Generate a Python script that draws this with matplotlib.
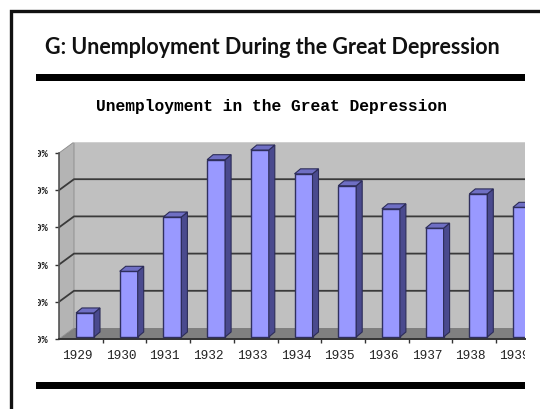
import numpy as np
import matplotlib
matplotlib.use("Agg")
import matplotlib.pyplot as plt
from matplotlib.patches import Polygon, Rectangle
from matplotlib.transforms import Bbox

W, H = 540, 409

years = ["1929", "1930", "1931", "1932", "1933", "1934", "1935", "1936", "1937", "1938", "1939"]
unemployment = [3.5, 9.1, 16.4, 24.1, 25.4, 22.2, 20.6, 17.5, 14.9, 19.5, 17.7]
y_ticks = [0, 5, 10, 15, 20, 25]
y_labels = ["0.00%", "5.00%", "10.00%", "15.00%", "20.00%", "25.00%"]

slide_title = "G: Unemployment During the Great Depression"
chart_title = "Unemployment in the Great Depression"


def fx(px):
    return px / W


def fy(py):
    return 1 - py / H


fig = plt.figure(figsize=(W / 100, H / 100), dpi=100, facecolor="white")

# slide frame and the two thick rules
frame = Rectangle((fx(10.5), fy(420)), fx(600), fy(11) - fy(420), transform=fig.transFigure,
                  fill=False, edgecolor="#111111", linewidth=2.4)
fig.add_artist(frame)
fig.add_artist(Rectangle((fx(36), fy(81)), fx(489), fy(74) - fy(81), transform=fig.transFigure,
                         facecolor="black", edgecolor="none"))
fig.add_artist(Rectangle((fx(36), fy(389)), fx(489), fy(382) - fy(389), transform=fig.transFigure,
                         facecolor="black", edgecolor="none"))

fig.text(fx(272), fy(48), slide_title, family="Lato", fontsize=15.5, fontweight="bold",
         color="#111111", ha="center", va="center")
fig.text(fx(271), fy(106), chart_title, family="Liberation Mono", fontsize=11.7, fontweight="bold",
         color="black", ha="center", va="center")

# axes runs from the front left axis to the crop on the right, up to the back wall top
ax = fig.add_axes([fx(59), fy(339), fx(466), fy(142) - fy(339)])
px_x = 43.7
px_y = 186 / 25
x0, x1 = -0.5, -0.5 + 466 / px_x
ax.set_xlim(x0, x1)
ax.set_ylim(0, 197 / px_y)
ax.patch.set_visible(False)

wall_dx = 15 / px_x
wall_dy = 11 / px_y
top = y_ticks[-1]

# floor, back wall, side wall
ax.add_patch(Polygon([(x0, 0), (x0 + wall_dx, wall_dy), (x1, wall_dy), (x1, 0)],
                     facecolor="#808080", edgecolor="none", zorder=1))
ax.add_patch(Polygon([(x0 + wall_dx, wall_dy), (x0 + wall_dx, top + wall_dy), (x1, top + wall_dy), (x1, wall_dy)],
                     facecolor="#C0C0C0", edgecolor="none", zorder=1))
ax.add_patch(Polygon([(x0, 0), (x0, top), (x0 + wall_dx, top + wall_dy), (x0 + wall_dx, wall_dy)],
                     facecolor="#B4B4B4", edgecolor="#8A8A8A", linewidth=0.6, zorder=1))
ax.plot([x0 + wall_dx, x1], [top + wall_dy, top + wall_dy], color="#D4D4D4", linewidth=1.2, zorder=2)
for v in y_ticks[1:-1]:
    ax.plot([x0, x0 + wall_dx, x1], [v, v + wall_dy, v + wall_dy], color="#3A3A3A", linewidth=1.3, zorder=2)

# bars: front face from the axes, side and top as offset polygons
pos = np.arange(len(years)) + 0.095
bar_w = 18 / px_x
bar_base = 0.27
side_dx = 6 / px_x
side_dy = 5 / px_y
ax.bar(pos, np.array(unemployment) - bar_base, bottom=bar_base, width=bar_w, color="#9999FF",
       edgecolor="#30305E", linewidth=1.0, zorder=3)
for p, v in zip(pos, unemployment):
    r = p + bar_w / 2
    l = p - bar_w / 2
    ax.add_patch(Polygon([(r, bar_base), (r + side_dx, bar_base + side_dy), (r + side_dx, v + side_dy), (r, v)],
                         facecolor="#4A4A8E", edgecolor="#2C2C58", linewidth=0.8, zorder=3))
    ax.add_patch(Polygon([(l, v), (l + side_dx, v + side_dy), (r + side_dx, v + side_dy), (r, v)],
                         facecolor="#6F6FC4", edgecolor="#2C2C58", linewidth=0.8, zorder=3))

for s in ["top", "right"]:
    ax.spines[s].set_visible(False)
ax.spines["left"].set_bounds(0, top)
ax.spines["left"].set_color("#555555")
ax.spines["left"].set_linewidth(1.2)
ax.spines["bottom"].set_color("#333333")
ax.spines["bottom"].set_linewidth(1.4)

ax.set_yticks(y_ticks)
ax.set_yticklabels(y_labels, family="Liberation Mono", fontsize=7.4, fontweight="bold", color="#222222")
ax.tick_params(axis="y", length=3, width=1, color="#333333", pad=5)

ax.set_xticks(np.arange(len(years)) - 0.08)
ax.set_xticklabels(years, family="Liberation Mono", fontsize=9.2, color="#222222")
ax.tick_params(axis="x", which="major", length=0, pad=8)
ax.set_xticks(np.arange(len(years)) + 0.5, minor=True)
ax.tick_params(axis="x", which="minor", length=3, width=1, color="#333333")
# set_xticks widens the limits, put them back
ax.set_xlim(x0, x1)

# the picture is cropped: y labels lose their left part, x labels stop at the right edge
for t in ax.get_yticklabels():
    t.set_clip_box(Bbox.from_extents(38, 0, W, H))
    t.set_clip_on(True)
for t in ax.get_xticklabels():
    t.set_clip_box(Bbox.from_extents(0, 0, 525, H))
    t.set_clip_on(True)

fig.savefig("out.png", dpi=100)
